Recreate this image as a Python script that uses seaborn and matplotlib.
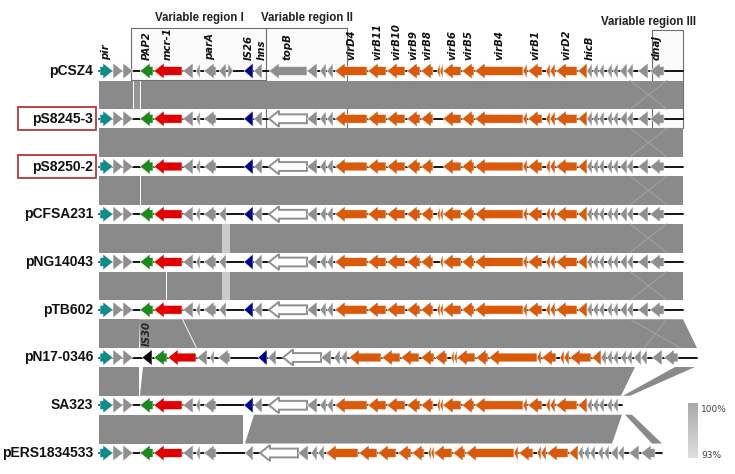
import numpy as np
import matplotlib
matplotlib.use("Agg")
import matplotlib.pyplot as plt
import seaborn as sns

# plasmids, top to bottom
plasmids = ["pCSZ4", "pS8245-3", "pS8250-2", "pCFSA231", "pNG14043",
            "pTB602", "pN17-0346", "SA323", "pERS1834533"]
highlighted = ["pS8245-3", "pS8250-2"]
genome_end = [58.4, 58.4, 58.4, 58.4, 58.4, 58.4, 59.8, 52.3, 56.3]  # kb

# reference backbone genes (pCSZ4), kb
gene_start = [0.1, 1.4, 2.4, 4.1, 5.5, 8.4, 9.7, 10.5, 12.0, 12.9, 14.5, 15.5,
              17.0, 20.8, 22.1, 22.8, 23.6, 26.9, 28.8, 30.8, 32.2, 33.8, 34.1,
              34.4, 36.3, 37.6, 42.4, 42.9, 44.7, 45.1, 45.7, 47.9, 48.8, 49.4,
              50.0, 50.8, 51.4, 52.1, 52.8, 53.9, 55.1]
gene_end = [1.4, 2.4, 3.4, 5.4, 8.3, 9.4, 10.1, 11.7, 12.7, 13.4, 15.4, 16.3,
            20.8, 21.8, 22.7, 23.4, 26.8, 28.7, 30.6, 32.1, 33.4, 34.1, 34.4,
            36.2, 37.5, 42.4, 42.8, 44.3, 45.1, 45.6, 47.8, 48.8, 49.3, 49.9,
            50.5, 51.3, 51.9, 52.8, 53.4, 54.9, 56.5]
gene_strand = [1, 1, 1, -1, -1, -1, -1, -1, -1, 1, -1, -1,
               -1, -1, -1, -1, -1, -1, -1, -1, -1, -1, -1,
               -1, -1, -1, -1, -1, -1, -1, -1, -1, -1, -1,
               -1, -1, -1, -1, -1, -1, -1]
gene_kind = ["rep", "hyp", "hyp", "pap2", "mcr", "hyp", "hyp", "hyp", "hyp", "hyp", "is26", "hyp",
             "hyp", "hyp", "hyp", "hyp", "vir", "vir", "vir", "vir", "vir", "vir", "vir",
             "vir", "vir", "vir", "vir", "vir", "vir", "vir", "vir", "vir", "hyp", "hyp",
             "hyp", "hyp", "hyp", "hyp", "hyp", "hyp", "hyp"]

# gene names shown above the first track (backbone index)
label_text = ["pir", "PAP2", "mcr-1", "parA", "IS26", "hns", "topB", "virD4", "virB11",
              "virB10", "virB9", "virB8", "virB6", "virB5", "virB4", "virB1", "virD2",
              "hicB", "dnaJ"]
label_gene = [0, 3, 4, 7, 10, 11, 12, 16, 17, 18, 19, 20, 23, 24, 25, 27, 30, 32, 40]

# per-plasmid differences from the backbone
missing = [[], [8, 9, 21, 22], [8, 9, 21, 22], [9], [9, 21], [9],
           [8, 9], [8, 9, 37, 38, 39, 40], [8, 9, 10]]
shift_at = [99, 99, 99, 99, 99, 99, 4.0, 99, 14.4]
shift_by = [0, 0, 0, 0, 0, 0, 1.4, 0, -0.9]
topb_hollow = [False, True, True, True, True, True, True, True, True]
is30_start, is30_end = 4.3, 5.3   # insertion in pN17-0346

# BLAST matches between neighbouring tracks: (top start, top end, bottom start, bottom end, identity %)
match_1_2 = [(0, 3.35, 0, 3.35, 100), (3.45, 4.05, 3.45, 4.05, 99), (4.15, 58.4, 4.15, 58.4, 100)]
match_2_3 = [(0, 58.4, 0, 58.4, 100)]
match_3_4 = [(0, 4.05, 0, 4.05, 100), (4.15, 58.4, 4.15, 58.4, 100)]
match_4_5 = [(0, 12.3, 0, 12.3, 100), (12.3, 13.1, 12.3, 13.1, 94.5), (13.1, 58.4, 13.1, 58.4, 100)]
match_5_6 = [(0, 6.7, 0, 6.7, 100), (6.75, 8.35, 6.75, 8.35, 100), (8.4, 12.3, 8.4, 12.3, 100),
             (12.3, 13.1, 12.3, 13.1, 94.5), (13.1, 58.4, 13.1, 58.4, 100)]
match_6_7 = [(0, 4.0, 0, 4.0, 100), (4.0, 8.3, 4.1, 9.7, 100), (8.4, 58.4, 9.8, 59.8, 100)]
match_7_8 = [(0, 4.0, 0, 4.0, 100), (4.4, 53.6, 4.1, 52.2, 100), (57.6, 59.6, 52.4, 53.1, 100)]
match_8_9 = [(0, 14.4, 0, 14.4, 100), (15.5, 52.3, 14.6, 51.3, 100), (52.6, 53.3, 55.3, 56.3, 100)]
matches = [match_1_2, match_2_3, match_3_4, match_4_5, match_5_6, match_6_7, match_7_8, match_8_9]

# inverted dnaJ block shows as a faint cross in the upper comparisons
cross_top = [53.1, 56.8]
cross_shift = [0, 0, 0, 0, 0, 1.4]

regions = ["Variable region I", "Variable region II", "Variable region III"]
region_start = [3.15, 16.7, 55.3]
region_end = [16.7, 24.8, 58.4]

legend_ticks = ["100%", "93%"]

colors = {"rep": "#0e8c8c", "hyp": "#8f8f8f", "pap2": "#1b8a1b", "mcr": "#e00000",
          "is26": "#00008b", "vir": "#d95a0b", "is30": "#000000"}

sns.set_theme(style="white")
plt.rcParams["font.family"] = ["DejaVu Sans"]

fig = plt.figure(figsize=(7.35, 4.74), dpi=100)
ax = fig.add_axes([0, 0, 1, 1])
ax.set_xlim(-9.9, 63.6)   # 10 px per kb, genome starts at x=99 px
ax.set_ylim(474, 0)
ax.axis("off")

track_y = [71 + 47.75 * i for i in range(len(plasmids))]
ident_cmap = sns.blend_palette(["#dcdcdc", "#8a8a8a"], as_cmap=True)


def arrow_poly(s, e, strand, y, h=8.0, bh=4.4, hl=1.0):
    head = min(hl, e - s)
    if strand > 0:
        b = e - head
        pts = [(s, y - bh), (b, y - bh), (b, y - h), (e, y), (b, y + h), (b, y + bh), (s, y + bh)]
    else:
        b = s + head
        pts = [(e, y - bh), (b, y - bh), (b, y - h), (s, y), (b, y + h), (b, y + bh), (e, y + bh)]
    return np.array(pts)


# variable region boxes (behind everything)
box_bottom = [80, 128, 128]
box_top = [28, 28, 30]
for rs, re_, bt, bb in zip(region_start, region_end, box_top, box_bottom):
    ax.add_patch(plt.Rectangle((rs, bt), re_ - rs, bb - bt, facecolor="#fbfbfb",
                               edgecolor="#6e6e6e", lw=0.8, zorder=0))
title_x = [10.0, 20.8, 59.7]
title_y = [18, 18, 22]
title_ha = ["center", "center", "right"]
for name, tx, ty, tha in zip(regions, title_x, title_y, title_ha):
    ax.text(tx, ty, name, ha=tha, va="center", fontsize=8.3, fontweight="bold",
            family="Liberation Sans", color="#222222")

# comparison bands
for k, band in enumerate(matches):
    y_top = track_y[k] + 9.5
    y_bot = track_y[k + 1] - 9.5
    for ts, te, bs, be, ident in band:
        col = ident_cmap((ident - 93) / 7)
        ax.fill([ts, te, be, bs], [y_top, y_top, y_bot, y_bot], color=col, lw=0, zorder=1)
    if k < len(cross_shift):
        a, b = cross_top
        d = cross_shift[k]
        ax.plot([a, b + d], [y_top, y_bot], color="#a3a3a3", lw=0.7, zorder=1.5)
        ax.plot([b, a + d], [y_top, y_bot], color="#a3a3a3", lw=0.7, zorder=1.5)

# genome tracks
for p, name in enumerate(plasmids):
    y = track_y[p]
    ax.plot([0, genome_end[p]], [y, y], color="black", lw=1.3, zorder=2)
    for i in range(len(gene_start)):
        if i in missing[p]:
            continue
        s, e = gene_start[i], gene_end[i]
        if s >= shift_at[p]:
            s += shift_by[p]
            e += shift_by[p]
        pts = arrow_poly(s, e, gene_strand[i], y)
        if i == 12 and topb_hollow[p]:
            ax.fill(pts[:, 0], pts[:, 1], facecolor="white", edgecolor=colors["hyp"], lw=1.4, zorder=3)
        else:
            ax.fill(pts[:, 0], pts[:, 1], facecolor=colors[gene_kind[i]], edgecolor="white",
                    lw=0.4, zorder=3)
    if name == "pN17-0346":
        pts = arrow_poly(is30_start, is30_end, -1, y)
        ax.fill(pts[:, 0], pts[:, 1], facecolor=colors["is30"], edgecolor="white", lw=0.4, zorder=3)
        ax.text((is30_start + is30_end) / 2, y - 11, "IS30", rotation=90, ha="center", va="bottom",
                fontsize=7.3, fontweight="bold", style="italic", zorder=4)
    ax.text(-0.6, y, name, ha="right", va="center", fontsize=10, fontweight="bold",
            family="Liberation Sans", color="#111111", zorder=4)
    if name in highlighted:
        ax.add_patch(plt.Rectangle((-8.1, y - 11.5), 7.8, 23, facecolor="none",
                                   edgecolor="#b23a3a", lw=1.3, zorder=4))

# gene labels above the first track
for txt, gi in zip(label_text, label_gene):
    xc = (gene_start[gi] + gene_end[gi]) / 2
    if txt == "hns":
        xc += 0.4
    ax.text(xc, track_y[0] - 11, txt, rotation=90, ha="center", va="bottom", fontsize=7.3,
            fontweight="bold", style="italic", color="#111111", zorder=4)

# identity legend
lax = fig.add_axes([688 / 735, (474 - 458) / 474, 10 / 735, 55 / 474])
grad = np.linspace(100, 93, 60)[:, None]
sns.heatmap(grad, cmap=sns.blend_palette(["#dedede", "#a9a9a9"], as_cmap=True), cbar=False,
            ax=lax, xticklabels=False, yticklabels=False)
lax.axis("off")
ax.text(60.2, 409, legend_ticks[0], ha="left", va="center", fontsize=6.5, color="#444444")
ax.text(60.2, 455, legend_ticks[1], ha="left", va="center", fontsize=6.5, color="#444444")

fig.savefig("out.png", dpi=100)
